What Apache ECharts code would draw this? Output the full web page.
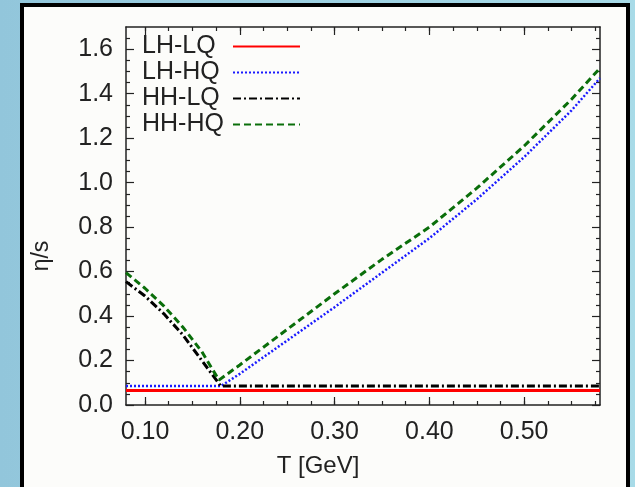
<!DOCTYPE html>
<html>
<head>
<meta charset="utf-8">
<script src="https://cdn.jsdelivr.net/npm/echarts@6/dist/echarts.min.js"></script>
<style>html,body{margin:0;padding:0;}#c{width:635px;height:487px;}</style>
</head>
<body>
<div id="c"></div>
<script>
// ---- data ----
var seriesNames = ['LH-LQ', 'LH-HQ', 'HH-LQ', 'HH-HQ'];
var tLHLQ = [0.08, 0.58];
var vLHLQ = [0.065, 0.065];
var tLHHQ = [0.08, 0.18, 0.20, 0.25, 0.30, 0.35, 0.40, 0.45, 0.50, 0.55, 0.58];
var vLHHQ = [0.085, 0.085, 0.14, 0.29, 0.44, 0.595, 0.75, 0.925, 1.115, 1.325, 1.47];
var tHHLQ = [0.08, 0.10, 0.12, 0.14, 0.16, 0.18, 0.58];
var vHHLQ = [0.555, 0.49, 0.41, 0.315, 0.2, 0.085, 0.085];
var tHHHQ = [0.08, 0.10, 0.12, 0.14, 0.16, 0.178, 0.20, 0.25, 0.30, 0.35, 0.40, 0.45, 0.50, 0.55, 0.58];
var vHHHQ = [0.595, 0.525, 0.445, 0.35, 0.24, 0.112, 0.18, 0.34, 0.50, 0.655, 0.80, 0.975, 1.165, 1.375, 1.515];
var xTickLabels = [0.10, 0.20, 0.30, 0.40, 0.50];
var xMinorTicks = [0.1, 0.125, 0.15, 0.175, 0.2, 0.225, 0.25, 0.275, 0.3, 0.325, 0.35, 0.375, 0.4, 0.425, 0.45, 0.475, 0.5, 0.525, 0.55, 0.575];
var yTickLabels = [0.0, 0.2, 0.4, 0.6, 0.8, 1.0, 1.2, 1.4, 1.6];
var yMinorTicks = [0.05, 0.1, 0.15, 0.25, 0.3, 0.35, 0.45, 0.5, 0.55, 0.65, 0.7, 0.75, 0.85, 0.9, 0.95, 1.05, 1.1, 1.15, 1.25, 1.3, 1.35, 1.45, 1.5, 1.55, 1.65];
var xRange = [0.08, 0.58];
var yRange = [0, 1.7];
var xTitle = 'T [GeV]';
var yTitle = 'η/s';

function zip(t, v) { return t.map(function (x, i) { return [x, v[i]]; }); }

var FONT = 'Liberation Sans';
var AX = '#222';

function xAx(pos, major, withLabel) {
  return {
    type: 'value', position: pos, min: xRange[0], max: xRange[1],
    axisLine: { show: major, onZero: false, lineStyle: { color: AX, width: 1.5 } },
    splitLine: { show: false },
    axisTick: { show: true, inside: true, length: major ? 8 : 4,
      customValues: major ? xTickLabels : xMinorTicks,
      lineStyle: { color: AX, width: 1.2 } },
    axisLabel: { show: !!withLabel, customValues: xTickLabels, margin: 15,
      fontFamily: FONT, fontSize: 25, color: AX,
      formatter: function (v) { return v.toFixed(2); } }
  };
}
function yAx(pos, major, withLabel) {
  return {
    type: 'value', position: pos, min: yRange[0], max: yRange[1],
    axisLine: { show: major, onZero: false, lineStyle: { color: AX, width: 1.5 } },
    splitLine: { show: false },
    axisTick: { show: true, inside: true, length: major ? 8 : 4,
      customValues: major ? yTickLabels : yMinorTicks,
      lineStyle: { color: AX, width: 1.2 } },
    axisLabel: { show: !!withLabel, customValues: yTickLabels, margin: 13,
      fontFamily: FONT, fontSize: 25, color: AX,
      formatter: function (v) { return v.toFixed(1); } }
  };
}

var chart = echarts.init(document.getElementById('c'), null, { renderer: 'canvas' });
chart.setOption({
  animation: false,
  backgroundColor: {
    type: 'linear', x: 0, y: 0, x2: 1, y2: 0,
    colorStops: [{ offset: 0, color: '#92c6db' }, { offset: 1, color: '#a8dbe8' }]
  },
  graphic: [
    { type: 'rect', z: -10, silent: true,
      shape: { x: 22, y: 5, width: 606, height: 600 },
      style: { fill: '#fcfcfa', stroke: '#000', lineWidth: 4 } },
    { type: 'text', silent: true, x: 318, y: 466,
      style: { text: xTitle, fontFamily: FONT, fontSize: 24, fill: AX, align: 'center', verticalAlign: 'middle' } },
    { type: 'text', silent: true, x: 42, y: 256, rotation: Math.PI / 2,
      style: { text: yTitle, fontFamily: FONT, fontSize: 23, fill: AX, align: 'center', verticalAlign: 'middle' } }
  ],
  grid: { left: 126, right: 35, top: 27, bottom: 82, containLabel: false },
  legend: {
    orient: 'vertical', left: 137, top: 29, align: 'right', itemGap: 1,
    itemWidth: 67, itemHeight: 14,
    itemStyle: { opacity: 0 },
    formatter: '{a|{name}}',
    textStyle: { fontFamily: FONT, fontSize: 25, color: '#222', lineHeight: 24,
      rich: { a: { width: 86, align: 'left', fontFamily: FONT, fontSize: 25, color: '#222', lineHeight: 24 } } },
    data: seriesNames
  },
  xAxis: [xAx('bottom', true, true), xAx('bottom', false, false), xAx('top', true, false), xAx('top', false, false)],
  yAxis: [yAx('left', true, true), yAx('left', false, false), yAx('right', true, false), yAx('right', false, false)],
  series: [
    { name: seriesNames[0], type: 'line', data: zip(tLHLQ, vLHLQ), showSymbol: false, symbol: 'none',
      lineStyle: { color: '#ff0000', width: 3, type: 'solid' }, itemStyle: { color: '#ff0000' } },
    { name: seriesNames[1], type: 'line', data: zip(tLHHQ, vLHHQ), showSymbol: false, symbol: 'none',
      lineStyle: { color: '#1a1aff', width: 2.5, type: [2, 2] }, itemStyle: { color: '#1a1aff' } },
    { name: seriesNames[2], type: 'line', data: zip(tHHLQ, vHHLQ), showSymbol: false, symbol: 'none',
      lineStyle: { color: '#000', width: 3, type: [8, 3, 2, 3] }, itemStyle: { color: '#000' } },
    { name: seriesNames[3], type: 'line', data: zip(tHHHQ, vHHHQ), showSymbol: false, symbol: 'none',
      lineStyle: { color: '#0a6e0a', width: 3, type: [7, 4] }, itemStyle: { color: '#0a6e0a' } }
  ]
});
</script>
</body>
</html>
